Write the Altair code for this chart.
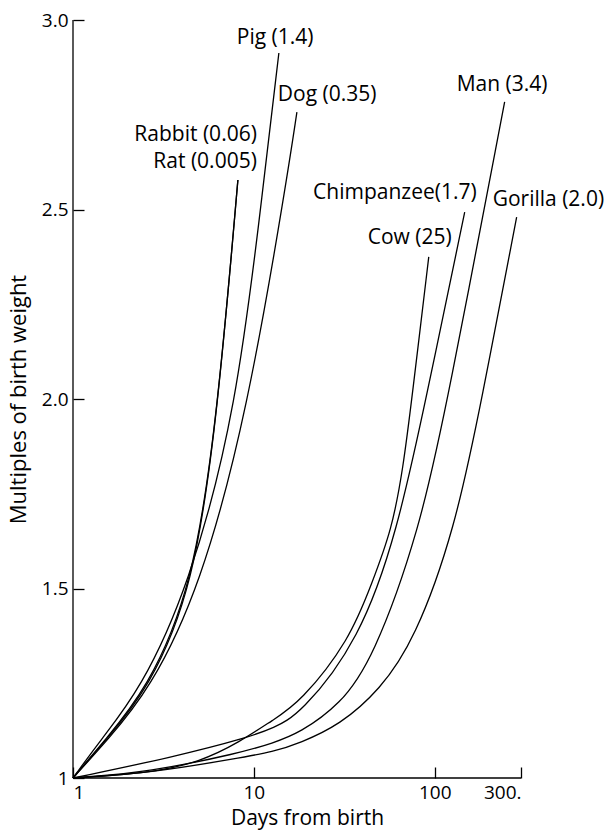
import altair as alt
import pandas as pd

# ---- curve data (days from birth, multiples of birth weight) ----
rabbit_days = [1, 1.50, 2.55, 4.60, 6.33, 8.16]
rabbit_mult = [1.0, 1.10, 1.232, 1.501, 1.971, 2.578]
rat_days = [1, 1.52, 2.60, 4.65, 6.33, 8.16]
rat_mult = [1.0, 1.10, 1.232, 1.501, 1.971, 2.578]
pig_days = [1, 1.42, 2.35, 4.35, 8.05, 11.36, 13.75]
pig_mult = [1.0, 1.10, 1.232, 1.501, 1.971, 2.578, 2.913]
dog_days = [1, 1.55, 2.65, 5.05, 9.26, 15.2, 17.3]
dog_mult = [1.0, 1.10, 1.232, 1.501, 1.971, 2.578, 2.757]
cow_days = [1, 2.66, 5.03, 8.37, 12.73, 17.95, 33.9, 45.0, 57.9, 67.0, 74.6, 92.7]
cow_mult = [1.0, 1.013, 1.042, 1.095, 1.153, 1.198, 1.364, 1.515, 1.654, 1.820, 1.997, 2.375]
chimp_days = [1, 3.57, 9.5, 12.73, 17.95, 38.5, 62.4, 89.2, 146.5]
chimp_mult = [1.0, 1.055, 1.108, 1.132, 1.166, 1.364, 1.654, 1.997, 2.493]
man_days = [1, 2.66, 8.37, 12.73, 17.95, 29.9, 45.4, 82.6, 118, 243.6]
man_mult = [1.0, 1.016, 1.066, 1.092, 1.119, 1.193, 1.311, 1.654, 1.997, 2.784]
gorilla_days = [1, 2.66, 8.37, 12.73, 17.95, 29.9, 49.7, 77.5, 129, 181.8, 283.8]
gorilla_mult = [1.0, 1.013, 1.053, 1.069, 1.092, 1.140, 1.232, 1.364, 1.654, 1.997, 2.480]

curves = {
    "Rabbit": (rabbit_days, rabbit_mult),
    "Rat": (rat_days, rat_mult),
    "Pig": (pig_days, pig_mult),
    "Dog": (dog_days, dog_mult),
    "Cow": (cow_days, cow_mult),
    "Chimpanzee": (chimp_days, chimp_mult),
    "Man": (man_days, man_mult),
    "Gorilla": (gorilla_days, gorilla_mult),
}

# ---- curve labels ----
label_text = ["Pig (1.4)", "Dog (0.35)", "Man (3.4)", "Gorilla (2.0)",
              "Rabbit (0.06)", "Rat (0.005)", "Chimpanzee(1.7)", "Cow (25)"]
label_day = [8.05, 13.57, 132.3, 209.1, 10.39, 10.39, 170.7, 124.2]
label_mult = [2.953, 2.802, 2.828, 2.525, 2.697, 2.625, 2.544, 2.425]
label_side = ["left", "left", "left", "left", "right", "right", "right", "right"]

x_ticks = [1, 10, 100, 300]
y_ticks = [1, 1.5, 2.0, 2.5, 3.0]

rows = []
for name, (ds, ms) in curves.items():
    for i, (d, m) in enumerate(zip(ds, ms)):
        rows.append({"species": name, "day": d, "mult": m, "idx": i})
df = pd.DataFrame(rows)
labels = pd.DataFrame({"text": label_text, "day": label_day, "mult": label_mult, "side": label_side})

W, H = 448, 758
FONT = "Open Sans"

xscale = alt.Scale(type="log", domain=[1, 300], nice=False)
yscale = alt.Scale(domain=[1, 3], nice=False, zero=False)

xaxis = alt.Axis(values=x_ticks, grid=False, domain=False, offset=-11, tickSize=11,
                 tickColor="black", tickWidth=1.3, labelPadding=5, labelFontSize=19,
                 labelFont=FONT, labelColor="black",
                 labelExpr="datum.value >= 300 ? '300.' : format(datum.value, 'd')",
                 title="Days from birth", titleFont=FONT, titleFontSize=21,
                 titleFontWeight="normal", titleColor="black",
                 titleX=234, titleY=51, titleBaseline="middle")
yaxis = alt.Axis(values=y_ticks, grid=False, domain=False, offset=-11, tickSize=11,
                 tickColor="black", tickWidth=1.3, labelPadding=5, labelFontSize=19,
                 labelFont=FONT, labelColor="black",
                 labelExpr="datum.value == 1 ? '1' : format(datum.value, '.1f')",
                 title="Multiples of birth weight", titleFont=FONT, titleFontSize=22,
                 titleFontWeight="normal", titleColor="black",
                 titleX=-66, titleY=379, titleBaseline="middle")

lines = alt.Chart(df).mark_line(color="black", strokeWidth=1.3, interpolate="basis").encode(
    x=alt.X("day:Q", scale=xscale, axis=xaxis),
    y=alt.Y("mult:Q", scale=yscale, axis=yaxis),
    detail="species:N",
    order="idx:Q",
)

def text_layer(side):
    return alt.Chart(labels).transform_filter(alt.datum.side == side).mark_text(
        align=side, baseline="middle", font=FONT, fontSize=21, color="black"
    ).encode(
        x=alt.X("day:Q", scale=xscale),
        y=alt.Y("mult:Q", scale=yscale),
        text="text:N",
    )

dummy = pd.DataFrame({"k": [0]})
yline = alt.Chart(dummy).mark_rule(color="black", strokeWidth=1.3).encode(
    x=alt.value(0), y=alt.value(0), y2=alt.value(H))
xline = alt.Chart(dummy).mark_rule(color="black", strokeWidth=1.3).encode(
    x=alt.value(0), x2=alt.value(W), y=alt.value(H))

chart = alt.layer(lines, text_layer("left"), text_layer("right"), yline, xline).properties(
    width=W, height=H,
    autosize=alt.AutoSizeParams(type="none"),
    padding={"left": 73, "top": 20, "right": 95, "bottom": 55},
    background="white",
).configure_view(stroke="transparent")

chart.save("out.html", embed_options={"renderer": "svg", "actions": False})
